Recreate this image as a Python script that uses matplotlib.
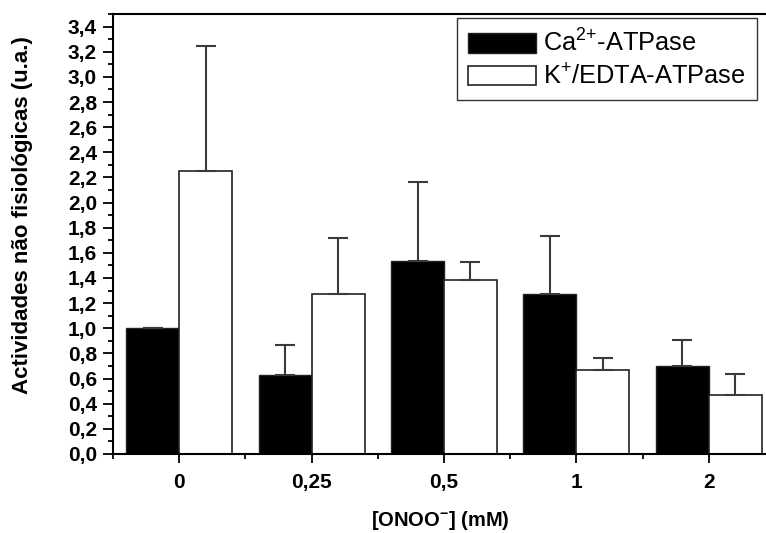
import matplotlib
matplotlib.use("Agg")
import matplotlib.pyplot as plt
import numpy as np
from matplotlib.ticker import MultipleLocator, FixedLocator

plt.rcParams['font.family'] = ['Liberation Sans', 'DejaVu Sans']
plt.rcParams['mathtext.default'] = 'regular'

categories = ['0', '0,25', '0,5', '1', '2']
ca_values = [1.00, 0.627, 1.539, 1.276, 0.703]
ca_errors = [0.0, 0.241, 0.625, 0.460, 0.202]
k_values = [2.248, 1.274, 1.383, 0.666, 0.470]
k_errors = [0.995, 0.446, 0.148, 0.101, 0.169]
y_ticks = [0.0, 0.2, 0.4, 0.6, 0.8, 1.0, 1.2, 1.4, 1.6, 1.8, 2.0, 2.2, 2.4, 2.6, 2.8, 3.0, 3.2, 3.4]
y_ticklabels = ['0,0', '0,2', '0,4', '0,6', '0,8', '1,0', '1,2', '1,4', '1,6', '1,8',
                '2,0', '2,2', '2,4', '2,6', '2,8', '3,0', '3,2', '3,4']

W, H = 766, 533
fig = plt.figure(figsize=(W/100, H/100), dpi=100)
ax = fig.add_axes([113/W, (H-454)/H, (775-113)/W, (454-14)/H])

x = np.arange(1, len(categories) + 1)
w = 0.4
err_kw = dict(ecolor='#3a3a3a', elinewidth=1.5, capsize=7, capthick=1.5)
ax.bar(x - w/2, ca_values, w, color='black', edgecolor='#222222', linewidth=1,
       yerr=[np.zeros(len(ca_errors)), ca_errors], error_kw=err_kw,
       label='Ca$^{2{+}}$-ATPase', zorder=2)
ax.bar(x + w/2, k_values, w, color='white', edgecolor='#222222', linewidth=1.2,
       yerr=[np.zeros(len(k_errors)), k_errors], error_kw=err_kw,
       label='K$^{+}$/EDTA-ATPase', zorder=2)

ax.set_xlim(0.5, 5.5)
ax.set_ylim(0, 3.5)
ax.set_xticks(x)
ax.set_xticklabels(categories, fontsize=15, fontweight='bold')
ax.xaxis.set_minor_locator(FixedLocator(x - 0.5))
ax.set_yticks(y_ticks)
ax.set_yticklabels(y_ticklabels, fontsize=15, fontweight='bold')
ax.yaxis.set_minor_locator(MultipleLocator(0.1))

ax.tick_params(axis='y', which='major', direction='out', length=7.2, width=1.3, pad=4.3)
ax.tick_params(axis='y', which='minor', direction='out', length=3.6, width=1.3)
ax.tick_params(axis='x', which='major', direction='out', length=6.5, width=1.3, pad=7)
ax.tick_params(axis='x', which='minor', direction='out', length=3.6, width=1.3)
for s in ax.spines.values():
    s.set_linewidth(1.5)

fig.text(23/W, 1 - 215/H, 'Actividades não fisiológicas (u.a.)', rotation=90,
         ha='center', va='center', fontsize=16, fontweight='bold')
fig.text(440/W, 1 - 520/H, '[ONOO$^{-}$] (mM)', ha='center', va='center',
         fontsize=14.5, fontweight='bold')

leg = fig.legend(loc='upper left', bbox_to_anchor=(457/W, 1 - 18/H),
                 fontsize=18.3, frameon=True, fancybox=False, handlelength=2.65,
                 handleheight=0.8, borderpad=0.45, labelspacing=0.28, handletextpad=0.3,
                 borderaxespad=0)
leg.get_frame().set_edgecolor('black')
leg.get_frame().set_linewidth(1.0)

fig.savefig('out.png', dpi=100)
